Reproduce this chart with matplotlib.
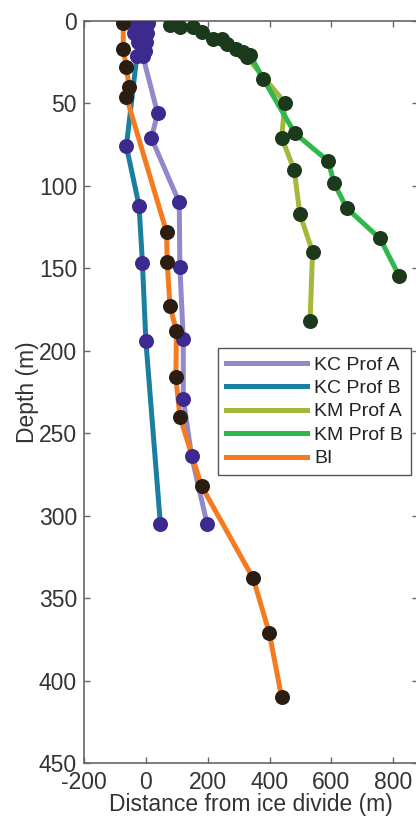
import matplotlib.pyplot as plt

# depth (m) and distance from ice divide (m)
kc_a_depth = [1, 7, 13, 18, 21, 56, 71, 110, 149, 193, 229, 264, 305]
kc_a_dist = [6, 3, 0, -3, -10, 38, 18, 108, 110, 121, 121, 148, 198]

kc_b_depth = [2, 7, 13, 21, 76, 112, 147, 194, 305]
kc_b_dist = [-32, -39, -26, -29, -63, -22, -11, 0, 47]

km_a_depth = [2.5, 3.6, 10.7, 13.8, 18.8, 21.8, 49.6, 70.8, 90.4, 117.1, 140, 182]
km_a_dist = [77, 153, 218, 261, 315, 326, 450, 439, 480, 498, 539, 531]

km_b_depth = [3.6, 6.7, 10.7, 16.8, 20.8, 35.2, 68.1, 85, 98.1, 113.6, 131.9, 154.5]
km_b_dist = [110, 180, 245, 293, 337, 380, 482, 590, 608, 650, 757, 819]

bi_depth = [1, 17, 28, 40, 46, 128, 146, 173, 188, 216, 240, 282, 338, 371, 410]
bi_dist = [-73, -73, -63, -54, -63, 67, 69, 78, 99, 97, 110, 180, 347, 399, 439]

series = [
    ("KC Prof A", kc_a_dist, kc_a_depth, "#9189cb", "#3d2a8e"),
    ("KC Prof B", kc_b_dist, kc_b_depth, "#1b7fa0", "#3d2a8e"),
    ("KM Prof A", km_a_dist, km_a_depth, "#a4b83b", "#1b3a1b"),
    ("KM Prof B", km_b_dist, km_b_depth, "#2fb84c", "#1b3a1b"),
    ("BI", bi_dist, bi_depth, "#f47b20", "#2b1d12"),
]

plt.rcParams["font.family"] = ["Liberation Sans", "DejaVu Sans"]
plt.rcParams["axes.unicode_minus"] = False

fig = plt.figure(figsize=(4.16, 8.18), dpi=100)
ax = fig.add_axes([84 / 416, 55 / 818, 334 / 416, 742 / 818])

for label, x, y, line_color, marker_color in series:
    ax.plot(x, y, color=line_color, lw=3.6, label=label, zorder=2)
for label, x, y, line_color, marker_color in series:
    ax.plot(x, y, ls="none", marker="o", ms=10.8, color=marker_color,
            markeredgewidth=0, zorder=3)

ax.set_xlim(-200, 880)
ax.set_ylim(450, 0)
ax.set_xticks([-200, 0, 200, 400, 600, 800])
ax.set_yticks(range(0, 451, 50))

for side in ax.spines.values():
    side.set_color("#666666")
    side.set_linewidth(1.2)
ax.tick_params(direction="in", length=4, width=1, color="#666666",
               top=True, right=True, labelsize=16.5, labelcolor="#333333")
ax.tick_params(axis="y", pad=5)
ax.tick_params(axis="x", pad=6)

ax.set_xlabel("Distance from ice divide (m)", fontsize=16.5, color="#333333", labelpad=-1)
ax.set_ylabel("Depth (m)", fontsize=16.5, color="#333333", labelpad=0)

leg = ax.legend(loc="upper left", bbox_to_anchor=(0.401, 0.559), borderaxespad=0,
                fontsize=14, handlelength=4.2, handletextpad=0.35,
                labelspacing=0.3, fancybox=False, framealpha=1,
                borderpad=0.4)
leg.get_frame().set_edgecolor("#555555")
leg.get_frame().set_linewidth(1.0)
for t in leg.get_texts():
    t.set_color("#222222")

fig.savefig("out.png", dpi=100)
